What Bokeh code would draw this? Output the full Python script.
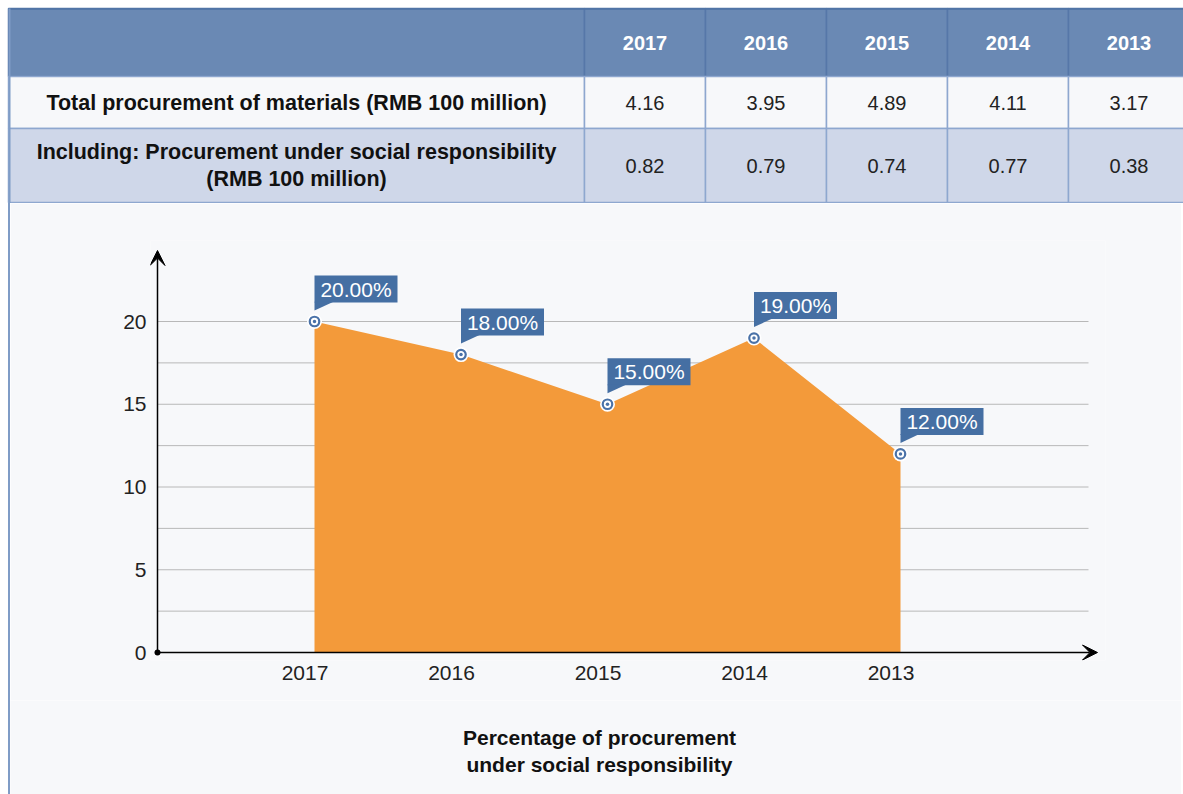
from bokeh.plotting import figure
from bokeh.layouts import column
from bokeh.models import Range1d, FixedTicker, Arrow, VeeHead, ColumnDataSource
from bokeh.embed import file_html
from bokeh.resources import INLINE
from bokeh.core.properties import value

# ---------------- data ----------------
years = ["2017", "2016", "2015", "2014", "2013"]
total_procurement = [4.16, 3.95, 4.89, 4.11, 3.17]
social_procurement = [0.82, 0.79, 0.74, 0.77, 0.38]
row_labels = [
    "Total procurement of materials (RMB 100 million)",
    "Including: Procurement under social responsibility\n(RMB 100 million)",
]
social_share = [20, 18, 15, 19, 12]
share_labels = ["20.00%", "18.00%", "15.00%", "19.00%", "12.00%"]
y_ticks = [0, 5, 10, 15, 20]
grid_ticks = [2.5, 5, 7.5, 10, 12.5, 15, 17.5, 20]
chart_title = "Percentage of procurement\nunder social responsibility"

# ---------------- style ----------------
FONT = "Liberation Sans"
PAGE_W, PAGE_H = 1183, 794
HEADER_BG = "#6a89b4"
ROW1_BG = "#f7f8fa"
ROW2_BG = "#cfd7e9"
BODY_LINE = "#8ea7cf"
HEAD_LINE = "#5677a8"
OUTER = "#4f73a6"
SIDE = "#7f9cc6"
PAGE_BG = "#f7f8fa"
ORANGE = "#f39a3a"
BLUE = "#456fa3"
RING = "#4a72a8"


def bare(p, bg):
    p.axis.visible = False
    p.grid.visible = False
    p.outline_line_color = None
    p.background_fill_color = bg
    p.border_fill_color = bg


# ---------------- table figure ----------------
T_H = 203
tp = figure(width=PAGE_W, height=T_H, x_range=Range1d(0, PAGE_W), y_range=Range1d(T_H, 0),
            toolbar_location=None, output_backend="svg", min_border=0, frame_align=False)
bare(tp, "white")

row_edges = [8, 76, 128, 202]
first_col = (8, 584)
col_w = 121
col_lefts = [first_col[1] + col_w * i for i in range(len(years))]
col_centers = [l + col_w / 2 for l in col_lefts]

tp.quad(left=[8], right=[PAGE_W], top=[8], bottom=[T_H], fill_color=PAGE_BG, line_color=None)
fills = [HEADER_BG, ROW1_BG, ROW2_BG]
lines = [HEAD_LINE, BODY_LINE, BODY_LINE]
for r in range(3):
    lefts = [first_col[0]] + col_lefts
    rights = [first_col[1]] + [l + col_w for l in col_lefts]
    tp.quad(left=lefts, right=rights, top=[row_edges[r]] * len(lefts), bottom=[row_edges[r + 1]] * len(lefts),
            fill_color=fills[r], line_color=lines[r], line_width=1.5)
tp.segment(x0=[8], y0=[8.5], x1=[PAGE_W], y1=[8.5], line_color=OUTER, line_width=1.5)
tp.segment(x0=[9], y0=[8], x1=[9], y1=[T_H], line_color=SIDE, line_width=2)

tp.text(x=col_centers, y=[42] * len(years), text=years, text_color="white", text_font=value(FONT),
        text_font_style="bold", text_font_size="20px", text_align="center", text_baseline="middle")
tp.text(x=[(first_col[0] + first_col[1]) / 2] * 2, y=[102, 165], text=row_labels, text_color="#111111",
        text_font=value(FONT), text_font_style="bold", text_font_size="21.5px", text_align="center",
        text_baseline="middle", text_line_height=1.15)
tp.text(x=col_centers, y=[102] * len(years), text=[f"{v:.2f}" for v in total_procurement], text_color="#222222",
        text_font=value(FONT), text_font_size="20px", text_align="center", text_baseline="middle")
tp.text(x=col_centers, y=[165] * len(years), text=[f"{v:.2f}" for v in social_procurement], text_color="#222222",
        text_font=value(FONT), text_font_size="20px", text_align="center", text_baseline="middle")

# ---------------- chart figure ----------------
X_OFF = 10                                  # page x where the chart canvas starts (after margin + side line)
SIDE_STYLE = {"margin-left": "8px", "border-left": f"2px solid {SIDE}"}
C_TOP, C_BOT = 203, 700
FL, FR, FT, FB = 150, 1105, 240, 660        # frame edges on the page (px)
X0_PX, DX_PX = 314, 146.5                   # px of first category, px per category
Y0_PX, DY_PX = 652, 16.55                   # px of value 0, px per unit
LABEL_SHIFT = 9.5 / DX_PX                   # category labels sit slightly left of their points


def xd(px):
    return (px - X0_PX) / DX_PX


def yd(px):
    return (Y0_PX - px) / DY_PX


cp = figure(width=PAGE_W - X_OFF, height=C_BOT - C_TOP, x_range=Range1d(xd(FL), xd(FR)),
            y_range=Range1d(yd(FB), yd(FT)), toolbar_location=None, output_backend="svg",
            min_border_left=FL - X_OFF, min_border_right=PAGE_W - FR, min_border_top=FT - C_TOP,
            min_border_bottom=C_BOT - FB, frame_align=False)
cp.outline_line_color = None
cp.background_fill_color = PAGE_BG
cp.border_fill_color = PAGE_BG
cp.grid.visible = False
cp.styles = SIDE_STYLE

idx = list(range(len(years)))
tick_pos = [i - LABEL_SHIFT for i in idx]
cp.xaxis.ticker = FixedTicker(ticks=tick_pos)
cp.xaxis.major_label_overrides = {t: y for t, y in zip(tick_pos, years)}
cp.yaxis.ticker = FixedTicker(ticks=y_ticks)
for ax in (cp.xaxis[0], cp.yaxis[0]):
    ax.axis_line_color = None
    ax.major_tick_line_color = None
    ax.minor_tick_line_color = None
    ax.major_tick_out = 0
    ax.major_tick_in = 0
    ax.minor_tick_out = 0
    ax.minor_tick_in = 0
    ax.major_label_text_font = FONT
    ax.major_label_text_font_size = "21px"
    ax.major_label_text_color = "#222222"
cp.yaxis.major_label_standoff = 4
cp.xaxis.major_label_standoff = 5

axis_x = xd(157)
grid_end = xd(1088)
cp.segment(x0=[axis_x] * len(grid_ticks), x1=[grid_end] * len(grid_ticks), y0=grid_ticks, y1=grid_ticks,
           line_color="#b8b8b8", line_width=1)

src = ColumnDataSource(dict(x=idx, y=social_share, label=share_labels))
cp.varea(x="x", y1=0, y2="y", source=src, fill_color=ORANGE)

cp.add_layout(Arrow(x_start=axis_x, y_start=0, x_end=axis_x, y_end=yd(250), line_width=1.5,
                    end=VeeHead(size=15, fill_color="black", line_color="black")))
cp.add_layout(Arrow(x_start=axis_x, y_start=0, x_end=xd(1097), y_end=0, line_width=1.5,
                    end=VeeHead(size=15, fill_color="black", line_color="black")))
cp.scatter(x=[axis_x], y=[0], size=6, fill_color="black", line_color=None)

cp.scatter(x="x", y="y", source=src, size=15, fill_color="white", line_color=None)
cp.scatter(x="x", y="y", source=src, size=9.5, fill_color="white", line_color=RING, line_width=2.2)
cp.scatter(x="x", y="y", source=src, size=3.5, fill_color=RING, line_color=None)

box_w = 83 / DX_PX
gap = 19 / DY_PX
box_h = 27 / DY_PX
tip = 8 / DY_PX
tri_w = 19 / DX_PX
cp.quad(left=idx, right=[i + box_w for i in idx], bottom=[v + gap for v in social_share],
        top=[v + gap + box_h for v in social_share], fill_color=BLUE, line_color=None)
cp.patches(xs=[[i, i + tri_w, i] for i in idx],
           ys=[[v + gap + 0.05, v + gap + 0.05, v + gap - tip] for v in social_share],
           fill_color=BLUE, line_color=None)
cp.text(x=[i + box_w / 2 for i in idx], y=[v + gap + box_h / 2 for v in social_share], text=share_labels,
        text_color="white", text_font=value(FONT), text_font_size="21px", text_align="center",
        text_baseline="middle")

# ---------------- chart title figure ----------------
tt = figure(width=PAGE_W - X_OFF, height=PAGE_H - C_BOT, x_range=Range1d(X_OFF, PAGE_W),
            y_range=Range1d(PAGE_H, C_BOT), toolbar_location=None, output_backend="svg", min_border=0,
            frame_align=False)
bare(tt, PAGE_BG)
tt.styles = SIDE_STYLE
tt.text(x=[599], y=[750.5], text=[chart_title], text_color="#111111", text_font=value(FONT),
        text_font_style="bold", text_font_size="21px", text_align="center", text_baseline="middle",
        text_line_height=1.15)

layout = column(tp, cp, tt, spacing=0)
open("out.html", "w").write(file_html(layout, INLINE))
